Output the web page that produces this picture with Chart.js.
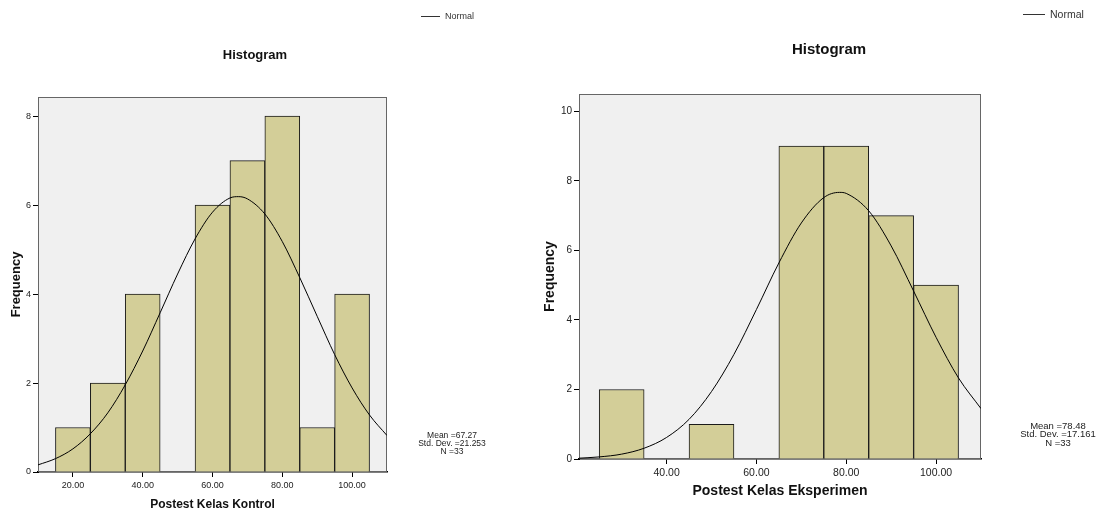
<!DOCTYPE html>
<html lang="id">
<head>
  <meta charset="UTF-8" />
  <title>Histogram Postest</title>
  <script src="https://cdn.jsdelivr.net/npm/chart.js"></script>
  <style>
    html, body { margin: 0; padding: 0; background: #fff; overflow: hidden; }
    .panel { position: absolute; top: 0; height: 512px; }
  </style>
</head>
<body>
  <div class="panel" style="left:0;width:500px"><canvas id="chartKontrol"></canvas></div>
  <div class="panel" style="left:530px;width:567px"><canvas id="chartEksperimen"></canvas></div>

  <script>
    const FONT = '"Liberation Sans", Arial, sans-serif';

    // Kelas Kontrol
    const binKontrol = [20, 30, 40, 50, 60, 70, 80, 90, 100];
    const freqKontrol = [1, 2, 4, 0, 6, 7, 8, 1, 4];
    const curveXKontrol = [10, 15, 20, 25, 30, 35, 40, 45, 50, 55, 60, 65, 67.5, 70, 75, 80, 85, 90, 95, 100, 105, 110];
    const curveYKontrol = [0.16, 0.30, 0.52, 0.86, 1.33, 1.96, 2.72, 3.58, 4.45, 5.24, 5.84, 6.16, 6.19, 6.14, 5.80, 5.18, 4.37, 3.50, 2.64, 1.89, 1.28, 0.82];
    const xTicksKontrol = [20, 40, 60, 80, 100];
    const yTicksKontrol = [0, 2, 4, 6, 8];
    const statsKontrol = ["Mean =67.27", "Std. Dev. =21.253", "N =33"];

    // Kelas Eksperimen
    const binEksperimen = [30, 40, 50, 60, 70, 80, 90, 100];
    const freqEksperimen = [2, 0, 1, 0, 9, 9, 7, 5];
    const curveXEksperimen = [20, 25, 30, 35, 40, 45, 50, 55, 60, 65, 70, 75, 78.5, 80, 85, 90, 95, 100, 105, 110];
    const curveYEksperimen = [0.02, 0.06, 0.14, 0.31, 0.62, 1.14, 1.94, 3.01, 4.30, 5.64, 6.79, 7.52, 7.67, 7.64, 7.14, 6.13, 4.83, 3.50, 2.33, 1.45];
    const xTicksEksperimen = [40, 60, 80, 100];
    const yTicksEksperimen = [0, 2, 4, 6, 8, 10];
    const statsEksperimen = ["Mean =78.48", "Std. Dev. =17.161", "N =33"];

    Chart.defaults.font.family = FONT;
    Chart.defaults.color = "#222";

    // abu-abu di area plot + bingkai atas/kanan
    const plotFrame = {
      id: "plotFrame",
      beforeDatasetsDraw(chart) {
        const { ctx, chartArea: a } = chart;
        ctx.save();
        ctx.fillStyle = "#f0f0f0";
        ctx.fillRect(a.left, a.top, a.width, a.height);
        ctx.strokeStyle = "#666";
        ctx.lineWidth = 1;
        ctx.strokeRect(a.left + 0.5, a.top + 0.5, a.width - 1, a.height - 1);
        ctx.restore();
      }
    };

    // judul, legenda "Normal" dan statistik ala SPSS
    const spssText = {
      id: "spssText",
      afterDraw(chart, args, o) {
        const ctx = chart.ctx;
        ctx.save();
        ctx.fillStyle = "#111";
        ctx.textAlign = "center";
        ctx.textBaseline = "middle";
        ctx.font = `bold ${o.titleSize}px ${FONT}`;
        ctx.fillText(o.title, o.titleX, o.titleY);

        const line = chart.data.datasets.find(d => d.type === "line");
        ctx.strokeStyle = "#333";
        ctx.lineWidth = 1;
        ctx.beginPath();
        ctx.moveTo(o.legendX, o.legendY + 0.5);
        ctx.lineTo(o.legendX + o.legendLen, o.legendY + 0.5);
        ctx.stroke();
        ctx.fillStyle = "#333";
        ctx.textAlign = "left";
        ctx.font = `${o.legendSize}px ${FONT}`;
        ctx.fillText(line.label, o.legendX + o.legendLen + 5, o.legendY + 1);

        ctx.textAlign = "center";
        ctx.fillStyle = "#222";
        ctx.font = `${o.statsSize}px ${FONT}`;
        o.stats.forEach((s, i) => ctx.fillText(s, o.statsX, o.statsY + i * o.statsGap));
        ctx.restore();
      }
    };

    function makeHistogram(id, c) {
      return new Chart(document.getElementById(id), {
        data: {
          datasets: [
            {
              type: "line",
              label: "Normal",
              data: c.curveX.map((x, i) => ({ x, y: c.curveY[i] })),
              borderColor: "#000",
              backgroundColor: "#000",
              borderWidth: 1,
              pointRadius: 0,
              cubicInterpolationMode: "monotone",
              order: 0
            },
            {
              type: "bar",
              label: "Frequency",
              data: c.bins.map((x, i) => ({ x, y: c.freq[i] })),
              backgroundColor: "#d3ce98",
              borderColor: "#1a1a1a",
              borderWidth: 1,
              barPercentage: 1,
              categoryPercentage: 1,
              order: 1
            }
          ]
        },
        options: {
          responsive: true,
          maintainAspectRatio: false,
          animation: false,
          layout: { padding: c.padding },
          plugins: {
            legend: { display: false },
            tooltip: { enabled: false },
            spssText: c.text
          },
          scales: {
            x: {
              type: "linear",
              min: c.xMin,
              max: c.xMax,
              offset: false,
              afterBuildTicks: s => { s.ticks = c.xTicks.map(v => ({ value: v })); },
              afterFit: s => { s.height = c.xHeight; },
              ticks: { callback: v => v.toFixed(2), font: { size: c.xTickSize }, padding: 3, maxRotation: 0, autoSkip: false },
              grid: { offset: false, drawOnChartArea: false, tickLength: 5, color: "#000" },
              border: { color: "#000", width: 1.5 },
              title: { display: true, text: c.xTitle, color: "#111", font: { size: c.xTitleSize, weight: "bold" }, padding: { top: 0, bottom: 0 } }
            },
            y: {
              type: "linear",
              min: 0,
              max: c.yMax,
              afterBuildTicks: s => { s.ticks = c.yTicks.map(v => ({ value: v })); },
              afterFit: s => { s.width = c.yWidth; },
              ticks: { font: { size: c.yTickSize }, padding: 2 },
              grid: { drawOnChartArea: false, tickLength: 5, color: "#000" },
              border: { color: "#000", width: 1 },
              title: { display: true, text: "Frequency", color: "#111", font: { size: c.yTitleSize, weight: "bold" }, padding: { top: c.yTitlePad, bottom: 0 } }
            }
          }
        },
        plugins: [plotFrame, spssText]
      });
    }

    makeHistogram("chartKontrol", {
      bins: binKontrol, freq: freqKontrol,
      curveX: curveXKontrol, curveY: curveYKontrol,
      xTicks: xTicksKontrol, yTicks: yTicksKontrol,
      xMin: 10, xMax: 110, yMax: 8.43,
      xTitle: "Postest Kelas Kontrol", xTitleSize: 12, yTitleSize: 13, yTitlePad: 2,
      xTickSize: 9, yTickSize: 9,
      xHeight: 40, yWidth: 31,
      padding: { left: 7, right: 113, top: 97, bottom: 0 },
      text: {
        title: "Histogram", titleX: 255, titleY: 55, titleSize: 13,
        legendX: 421, legendY: 16, legendLen: 19, legendSize: 9,
        stats: statsKontrol, statsX: 452, statsY: 436, statsGap: 8, statsSize: 8.5
      }
    });

    makeHistogram("chartEksperimen", {
      bins: binEksperimen, freq: freqEksperimen,
      curveX: curveXEksperimen, curveY: curveYEksperimen,
      xTicks: xTicksEksperimen, yTicks: yTicksEksperimen,
      xMin: 20.5, xMax: 110, yMax: 10.5,
      xTitle: "Postest Kelas Eksperimen", xTitleSize: 14, yTitleSize: 14, yTitlePad: 3,
      xTickSize: 10.5, yTickSize: 10,
      xHeight: 41, yWidth: 40,
      padding: { left: 9, right: 116, top: 94, bottom: 12 },
      text: {
        title: "Histogram", titleX: 299, titleY: 50, titleSize: 15,
        legendX: 493, legendY: 14, legendLen: 22, legendSize: 10.5,
        stats: statsEksperimen, statsX: 528, statsY: 426, statsGap: 8.5, statsSize: 9.5
      }
    });
  </script>
</body>
</html>
